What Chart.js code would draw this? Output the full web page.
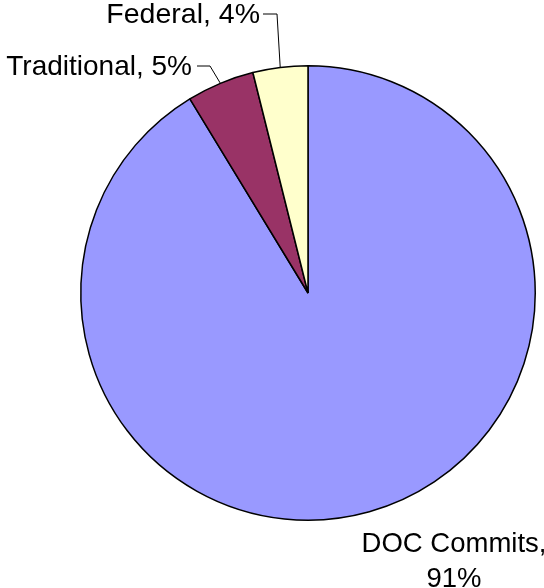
<!DOCTYPE html>
<html>
<head>
<meta charset="utf-8">
<script src="https://cdn.jsdelivr.net/npm/chart.js@4"></script>
<style>
  html, body { margin: 0; padding: 0; background: #fff; }
  #wrap { width: 544px; height: 588px; }
</style>
</head>
<body>
<div id="wrap"><canvas id="chart" width="544" height="588"></canvas></div>
<script>
const categories = ['DOC Commits', 'Traditional', 'Federal'];
const shares = [91.3, 4.8, 3.9];
const sliceColors = ['#9999FF', '#993366', '#FFFFCC'];

// where each label sits: text anchor, alignment, elbow of the leader line
const labelLayout = [
  { x: 454, y: 552, align: 'center', wrap: true, line: 35, size: 27.5 },
  { x: 192, y: 75, align: 'right', elbow: [210, 66], tail: [197, 66], size: 28 },
  { x: 260, y: 23, align: 'right', elbow: [277, 14], tail: [263, 14], size: 28.5 },
];

const sliceLabels = {
  id: 'sliceLabels',
  afterDatasetsDraw(chart) {
    const { ctx } = chart;
    const meta = chart.getDatasetMeta(0);
    const total = shares.reduce((a, b) => a + b, 0);
    ctx.save();
    ctx.fillStyle = '#000';
    ctx.strokeStyle = '#000';
    ctx.lineWidth = 1;
    ctx.textBaseline = 'alphabetic';
    meta.data.forEach((arc, i) => {
      const pct = Math.round(shares[i] / total * 100) + '%';
      const lay = labelLayout[i];
      ctx.font = lay.size + 'px "Liberation Sans", Arial, sans-serif';
      ctx.textAlign = lay.align;
      if (lay.wrap) {
        ctx.fillText(categories[i] + ',', lay.x, lay.y);
        ctx.fillText(pct, lay.x, lay.y + lay.line);
      } else {
        ctx.fillText(categories[i] + ', ' + pct, lay.x, lay.y);
      }
      if (lay.elbow) {
        const mid = (arc.startAngle + arc.endAngle) / 2;
        const ex = arc.x + Math.cos(mid) * arc.outerRadius;
        const ey = arc.y + Math.sin(mid) * arc.outerRadius;
        ctx.beginPath();
        ctx.moveTo(ex, ey);
        ctx.lineTo(lay.elbow[0], lay.elbow[1]);
        ctx.lineTo(lay.tail[0], lay.tail[1]);
        ctx.stroke();
      }
    });
    ctx.restore();
  },
};

new Chart(document.getElementById('chart'), {
  type: 'pie',
  data: {
    labels: categories,
    datasets: [{
      data: shares,
      backgroundColor: sliceColors,
      borderColor: '#000',
      borderWidth: 1.5,
    }],
  },
  options: {
    responsive: false,
    animation: false,
    layout: { padding: { left: 80, right: 8, top: 65, bottom: 67 } },
    plugins: {
      legend: { display: false },
      tooltip: { enabled: false },
    },
  },
  plugins: [sliceLabels],
});
</script>
</body>
</html>
